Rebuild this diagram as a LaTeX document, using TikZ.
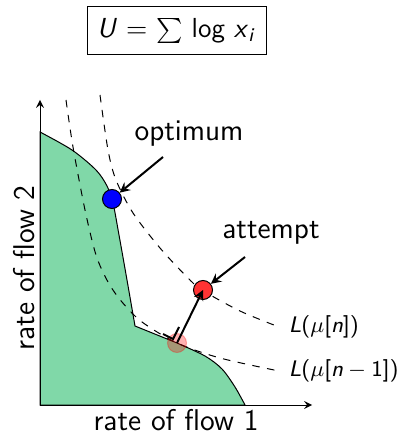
\documentclass[tikz,border=0pt]{standalone}
\usetikzlibrary{calc}
\definecolor{regiongreen}{RGB}{128,216,168}
\newcommand{\sv}[1]{\textit{#1}}
\tikzset{
  dot/.style={circle,draw,inner sep=0pt,minimum size=7.6pt},
  level/.style={dashed,thin},
  levellab/.style={anchor=west,font=\sffamily\fontsize{9}{11}\selectfont},
  pointer/.style={->,thick}
}
\begin{document}
\begin{tikzpicture}[x=.4pt,y=-.4pt,>=stealth,font=\sffamily\fontsize{12}{14}\selectfont]
  \useasboundingbox (0,0) rectangle (397,437);
  \node[draw,inner sep=0pt,minimum width=71.6pt,minimum height=19.2pt,
    font=\sffamily\fontsize{11}{13}\selectfont] (util) at (176.5,31)
    {\sv{U} $=$ $\sum$ log \sv{x}\textsubscript{\sv{i}}};
  \draw[fill=regiongreen] (40,405) -- plot[smooth] coordinates {
    (40,132) (72,150) (96,170) (107,186) (113,203) (119,235) (127,280) (135,326)}
    -- (177,343) -- plot[smooth] coordinates {
    (177,343) (205,356) (222,369) (235,387) (245,405)} -- cycle;
  \draw[level] plot[smooth] coordinates {
    (100,95) (108,150) (116,180) (133,213) (160,248) (187,277) (202,290) (240,311) (279,327)};
  \draw[level] plot[smooth] coordinates {
    (66,100) (73,147) (85,210) (96,255) (108,282) (122,302) (142,322) (177,343) (220,358) (279,371)};
  \draw[->] (40,405) -- (312,405);
  \draw[->] (40,405) -- (40,100);
  \node (xlab) at (176,420) {rate of flow 1};
  \node[rotate=90] (ylab) at (24,268) {rate of flow 2};
  \node[dot,fill=blue] (opt) at (112,199) {};
  \node[dot,fill=red!80] (att) at (203,290) {};
  \node[dot,draw=red,draw opacity=.3,fill=red,fill opacity=.3] (prev) at (177,343) {};
  \node (optlab) at (189,134) {optimum};
  \node (attlab) at (271,233) {attempt};
  \node[levellab] (newlab) at (280,327) {\sv{L}($\mu$[\sv{n}])};
  \node[levellab] (oldlab) at (280,371) {\sv{L}($\mu$[\sv{n}${}-{}$1])};
  \coordinate (optfrom) at (163,157);
  \coordinate (attfrom) at (245,257);
  \draw[pointer] (optfrom) -- (opt);
  \draw[pointer] (attfrom) -- (att);
  \draw[pointer] (prev.center) -- (att.center);
  \draw[thick] ($(prev)+(-14,-9)$) -- ++(10,5) -- ++(6,-12);
\end{tikzpicture}
\end{document}
